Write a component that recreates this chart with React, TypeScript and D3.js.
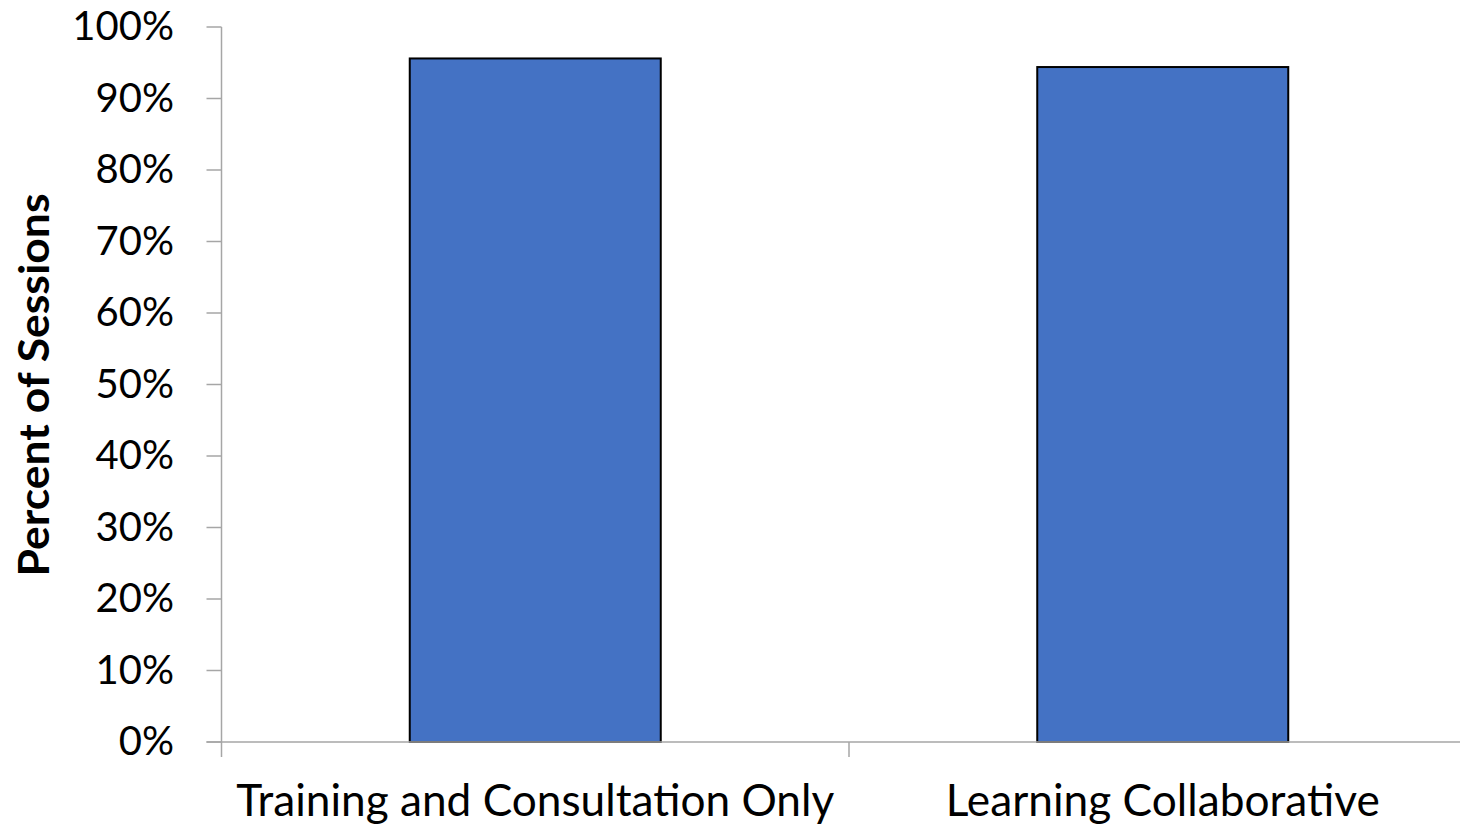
import React from "react";
import * as d3 from "d3";

const categories = ["Training and Consultation Only", "Learning Collaborative"];
const values = [0.956, 0.944];
const yTicks = [0, 0.1, 0.2, 0.3, 0.4, 0.5, 0.6, 0.7, 0.8, 0.9, 1.0];
const yTitle = "Percent of Sessions";

const W = 1460;
const H = 827;
const FONT = "Lato, 'Open Sans', sans-serif";
const AXIS = "#a6a6a6";

export default function App() {
  const left = 221.5;
  const right = 1476.5;
  const top = 27;
  const bottom = 742;

  const x = d3.scaleBand<string>().domain(categories).range([left, right]).paddingInner(0.6).paddingOuter(0.3);
  const xOuter = d3.scaleBand<string>().domain(categories).range([left, right]);
  const y = d3.scaleLinear().domain([0, 1]).range([bottom, top]);
  const fmt = d3.format(".0%");

  const labelWidths = [598, 434];

  return (
    <div style={{ position: "absolute", left: 0, top: 0 }}>
      <svg width={W} height={H} style={{ display: "block", background: "#fff" }}>
        {/* y axis */}
        <line x1={left} x2={left} y1={top} y2={bottom} stroke={AXIS} strokeWidth={1.5} />
        {yTicks.map((t) => (
          <g key={t}>
            <line x1={left - 15} x2={left} y1={y(t)} y2={y(t)} stroke={AXIS} strokeWidth={1.5} />
            <text
              x={174}
              y={y(t)}
              dy={13}
              textAnchor="end"
              fontFamily={FONT}
              fontSize={40}
              fill="#000"
            >
              {fmt(t)}
            </text>
          </g>
        ))}
        {/* bars */}
        {categories.map((c, i) => (
          <rect
            key={c}
            x={x(c)}
            y={y(values[i])}
            width={x.bandwidth()}
            height={bottom - y(values[i])}
            fill="#4472c4"
            stroke="#000"
            strokeWidth={2}
          />
        ))}
        {/* x axis */}
        <line x1={left - 15} x2={right} y1={bottom} y2={bottom} stroke={AXIS} strokeWidth={1.5} />
        {[...categories.map((c) => xOuter(c) as number), right].map((px, i) => (
          <line key={i} x1={px} x2={px} y1={bottom} y2={bottom + 15} stroke={AXIS} strokeWidth={1.5} />
        ))}
        {categories.map((c, i) => (
          <text
            key={c}
            x={(x(c) as number) + x.bandwidth() / 2}
            y={816}
            textAnchor="middle"
            fontFamily={FONT}
            fontSize={44}
            textLength={labelWidths[i]}
            lengthAdjust="spacingAndGlyphs"
            fill="#000"
          >
            {c}
          </text>
        ))}
        {/* y title */}
        <text
          transform={`translate(49, 385) rotate(-90)`}
          textAnchor="middle"
          fontFamily={FONT}
          fontWeight="bold"
          fontSize={42}
          textLength={383}
          lengthAdjust="spacingAndGlyphs"
          fill="#000"
        >
          {yTitle}
        </text>
      </svg>
    </div>
  );
}
